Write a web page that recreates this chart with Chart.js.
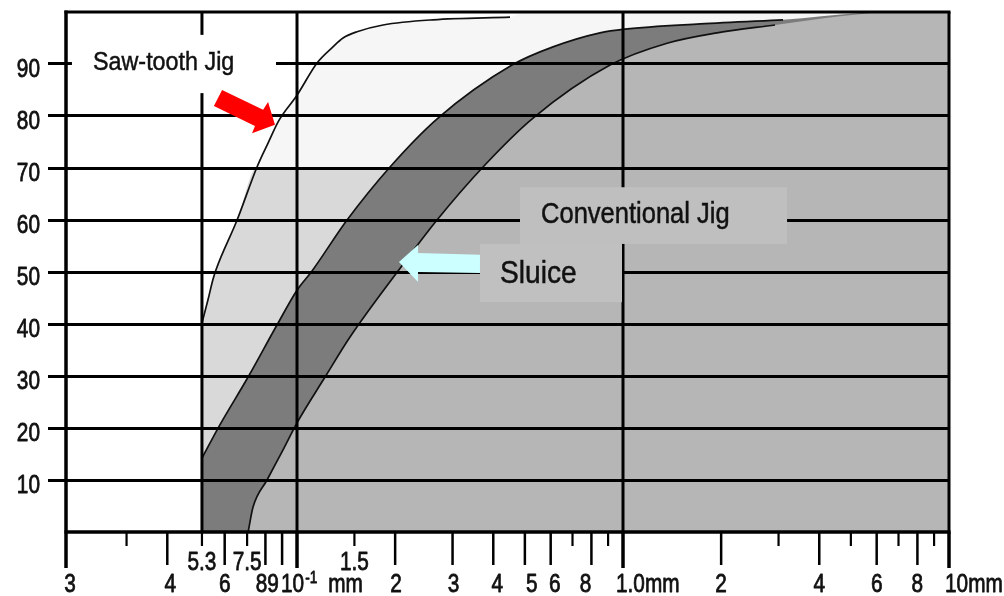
<!DOCTYPE html>
<html><head><meta charset="utf-8">
<script src="https://cdn.jsdelivr.net/npm/chart.js@4.4.1/dist/chart.umd.min.js"></script>
<style>html,body{margin:0;padding:0;background:#fff;overflow:hidden}</style>
</head><body>
<canvas id="c" width="1004" height="596"></canvas>
<script>
// ---------------- data ----------------
const xMin = 0.01956, xMax = 10;
const yTickValues = [10, 20, 30, 40, 50, 60, 70, 80, 90];
const yTickLabels = ['10', '20', '30', '40', '50', '60', '70', '80', '90'];

const xLongTicks  = [0.01956, 0.04, 0.06, 0.08, 0.09, 0.1, 0.2, 0.3, 0.4, 0.5, 0.6, 0.8, 1, 2, 4, 6, 8, 10];
const xShortTicks = [0.03, 0.0511, 0.0703, 0.15, 0.7, 0.9, 3, 5, 7, 9];
const xHeavyTicks = [0.01956, 0.1, 1, 10];
const xGridValues = [0.0511, 0.1, 1];

const xLowerLabelValues = [0.01956, 0.04, 0.06, 0.08, 0.09, 0.1, 0.2, 0.3, 0.4, 0.5, 0.6, 0.8, 1, 2, 4, 6, 8, 10];
const xLowerLabels      = ['3', '4', '6', '8', '9', '10\u207B\u00B9 mm', '2', '3', '4', '5', '6', '8', '1.0mm', '2', '4', '6', '8', '10mm'];
const xUpperLabelValues = [0.0511, 0.0703, 0.15];
const xUpperLabels      = ['5.3', '7.5', '1.5'];

// Saw-tooth Jig curve (size mm, cumulative %)
const sawX = [0.0511, 0.0533, 0.0552, 0.0564, 0.0655, 0.0754, 0.0815, 0.0881, 0.1, 0.1152, 0.1289, 0.1384, 0.1528, 0.1836, 0.2614, 0.4502];
const sawY = [40.2, 44.6, 48.5, 50.4, 60.0, 70.2, 74.8, 79.2, 84.0, 90.2, 93.3, 95.0, 96.2, 97.5, 98.5, 99.0];

// Sluice band, upper (left) edge
const bandUpperX = [0.0511, 0.0580, 0.0708, 0.0868, 0.1, 0.1112, 0.1424, 0.1929, 0.2707, 0.4565, 0.6099, 0.8499, 1.014, 1.723, 3.097, 5.333, 6.927];
const bandUpperY = [14.2, 20.6, 29.8, 39.8, 46.5, 50.2, 60.0, 70.2, 79.6, 89.8, 93.3, 96.0, 96.7, 97.7, 98.5, 99.8, 100];

// Sluice band, lower (right) edge = boundary of Conventional Jig area
const bandLowerX = [0.0708, 0.0733, 0.0809, 0.0906, 0.1, 0.1219, 0.1454, 0.2041, 0.2688, 0.3720, 0.5297, 0.9125, 1.365, 1.943, 2.926, 4.63, 6.927];
const bandLowerY = [0, 4.8, 10.0, 15.8, 21.0, 29.8, 37.5, 50.2, 60.0, 70.2, 79.6, 89.8, 94.0, 96.0, 97.5, 99.2, 100];

// ---------------- annotations (data coordinates) ----------------
const boxes = [
  {x0: 0.0204, x1: 0.0862, y0: 84.4, y1: 95.6, color: '#ffffff'},
  {x0: 0.4831, x1: 3.186,  y0: 55.4, y1: 66.3, color: '#bfbfbf'},
  {x0: 0.3641, x1: 0.9929, y0: 44.2, y1: 55.4, color: '#c0c0c0'}
];
const texts = [
  {text: 'Saw-tooth Jig',    x: 0.02367, y: 88.85, size: 26.5},
  {text: 'Conventional Jig', x: 0.5604,  y: 59.4,  size: 29},
  {text: 'Sluice',           x: 0.4195,  y: 47.9,  size: 32}
];
const redArrow  = [[0.0589, 85.0], [0.0787, 81.2], [0.0815, 82.7], [0.0856, 78.3], [0.0728, 76.7], [0.0743, 78.1], [0.0556, 81.9]];
const cyanArrow = [[0.2055, 51.9], [0.2351, 55.2], [0.2351, 53.65], [0.3641, 53.3], [0.3641, 49.8], [0.2351, 50.0], [0.2351, 48.1]];

// ---------------- styling ----------------
const FONT_AXIS = '"Liberation Sans", Arial, sans-serif';
const FONT_TEXT = '"Liberation Sans", Arial, sans-serif';
const AXIS_SIZE = 26, AXIS_SQUEEZE = 0.8, TEXT_SQUEEZE = 0.88;
const lowerNudge = [4, 3, 0, -4, -9, -16, 1, 1, 4, 7, 4, -6, -7, 0, 0, 0, 0, -4];
const lowerAlign = ['center','center','center','center','center','left','center','center','center','center','center','center','left','center','center','center','center','left'];

const pts = (xs, ys) => xs.map((v, i) => ({x: v, y: ys[i]}));
const sawPts = pts(sawX, sawY);
const upperPts = pts(bandUpperX, bandUpperY);
const lowerPts = pts(bandLowerX, bandLowerY);
const OUTLINE_END = 3.1;
const lightPts = sawPts.filter(p => p.y <= 70.2).concat([{x: xMax, y: 70.2}]);
const veryLightPts = sawPts.concat([{x: 0.5, y: 100}, {x: xMax, y: 100}]);
const NONE = 'rgba(0,0,0,0)';
const base = {pointRadius: 0, pointHoverRadius: 0, cubicInterpolationMode: 'monotone'};

function squeezedText(ctx, text, px, py, size, squeeze, align) {
  ctx.save();
  ctx.translate(px, py);
  ctx.scale(squeeze, 1);
  ctx.font = size + 'px ' + FONT_AXIS;
  ctx.textAlign = align; ctx.textBaseline = 'alphabetic';
  ctx.fillStyle = '#111'; ctx.strokeStyle = '#111'; ctx.lineWidth = 0.8; ctx.lineJoin = 'round';
  ctx.fillText(text, 0, 0);
  ctx.strokeText(text, 0, 0);
  ctx.restore();
}
function squeezedWidth(ctx, text, size, squeeze) {
  ctx.save(); ctx.font = size + 'px ' + FONT_AXIS; const w = ctx.measureText(text).width * squeeze; ctx.restore(); return w;
}

const decor = {
  id: 'decor',
  afterDatasetsDraw(chart) {
    const {ctx, chartArea: a, scales: {x}} = chart;
    ctx.save();
    ctx.strokeStyle = '#000';
    ctx.lineCap = 'butt';
    const line = (x0, y0, x1, y1, w) => { ctx.lineWidth = w; ctx.beginPath(); ctx.moveTo(x0, y0); ctx.lineTo(x1, y1); ctx.stroke(); };
    xGridValues.forEach(v => { const px = x.getPixelForValue(v); line(px, a.top, px, a.bottom, 3); });
    line(a.left - 1.5, a.top, a.right + 1.5, a.top, 3);
    line(a.right, a.top, a.right, a.bottom, 3);
    line(a.left, a.top - 1.5, a.left, a.bottom, 3.5);
    line(a.left - 1.5, a.bottom, a.right + 1.5, a.bottom, 3.5);
    xLongTicks.forEach(v => { const px = x.getPixelForValue(v); const heavy = xHeavyTicks.includes(v); line(px, a.bottom, px, a.bottom + (heavy ? 36 : 33), heavy ? 3.5 : 2.5); });
    xShortTicks.forEach(v => { const px = x.getPixelForValue(v); line(px, a.bottom, px, a.bottom + 14, 2.2); });
    ctx.restore();
  },
  afterDraw(chart) {
    const {ctx, chartArea: a, scales: {x, y}} = chart;
    ctx.save();
    boxes.forEach(b => {
      const px0 = x.getPixelForValue(b.x0), px1 = x.getPixelForValue(b.x1);
      const py0 = y.getPixelForValue(b.y1), py1 = y.getPixelForValue(b.y0);
      ctx.fillStyle = b.color; ctx.fillRect(px0, py0, px1 - px0, py1 - py0);
    });
    const poly = (p, color) => {
      ctx.beginPath();
      p.forEach(([vx, vy], i) => { const px = x.getPixelForValue(vx), py = y.getPixelForValue(vy); i ? ctx.lineTo(px, py) : ctx.moveTo(px, py); });
      ctx.closePath(); ctx.fillStyle = color; ctx.fill();
    };
    poly(redArrow, '#ff0000');
    poly(cyanArrow, '#ccffff');
    texts.forEach(t => {
      ctx.save();
      ctx.translate(x.getPixelForValue(t.x), y.getPixelForValue(t.y));
      ctx.scale(TEXT_SQUEEZE, 1);
      ctx.font = t.size + 'px ' + FONT_TEXT;
      ctx.fillStyle = '#111'; ctx.strokeStyle = '#111'; ctx.lineWidth = 0.5;
      ctx.textAlign = 'left'; ctx.textBaseline = 'alphabetic';
      ctx.fillText(t.text, 0, 0);
      ctx.strokeText(t.text, 0, 0);
      ctx.restore();
    });
    // y-axis labels
    yTickValues.forEach((v, i) => squeezedText(ctx, yTickLabels[i], a.left - 26, y.getPixelForValue(v) + 13, AXIS_SIZE, AXIS_SQUEEZE, 'right'));
    // x-axis labels, lower row
    const base1 = a.bottom + 60;
    xLowerLabelValues.forEach((v, i) => {
      const px = x.getPixelForValue(v) + lowerNudge[i];
      const label = xLowerLabels[i];
      const m = label.match(/^(\d+)([\u207B\u00B9]+)\s*(.*)$/);
      if (m) {
        const sup = m[2].replace('\u207B', '-').replace('\u00B9', '1');
        squeezedText(ctx, m[1], px, base1, AXIS_SIZE, AXIS_SQUEEZE, 'left');
        const w1 = squeezedWidth(ctx, m[1], AXIS_SIZE, AXIS_SQUEEZE);
        squeezedText(ctx, sup, px + w1 + 1, base1 - 9, 17, AXIS_SQUEEZE, 'left');
        squeezedText(ctx, m[3], px + w1 + 24, base1, AXIS_SIZE, AXIS_SQUEEZE, 'left');
      } else {
        squeezedText(ctx, label, px, base1, AXIS_SIZE, AXIS_SQUEEZE, lowerAlign[i]);
      }
    });
    // x-axis labels, upper row
    xUpperLabelValues.forEach((v, i) => squeezedText(ctx, xUpperLabels[i], x.getPixelForValue(v), a.bottom + 38, AXIS_SIZE, AXIS_SQUEEZE, 'center'));
    ctx.restore();
  }
};

new Chart(document.getElementById('c'), {
  type: 'line',
  data: {
    datasets: [
      {...base, data: lowerPts.filter(p => p.x <= OUTLINE_END), borderColor: '#111', borderWidth: 1.7, fill: false},
      {...base, data: upperPts.filter(p => p.x <= OUTLINE_END), borderColor: '#111', borderWidth: 1.7, fill: false},
      {...base, data: sawPts, borderColor: '#111', borderWidth: 1.7, fill: false},
      {...base, data: lowerPts.concat([{x: xMax, y: 100}]), borderColor: NONE, borderWidth: 0.1, fill: 'origin', backgroundColor: '#b6b6b6'},
      {...base, data: upperPts.concat([{x: xMax, y: 100}]), borderColor: NONE, borderWidth: 0.1, fill: 'origin', backgroundColor: '#7c7c7c'},
      {...base, data: lightPts, borderColor: NONE, borderWidth: 0.1, fill: 'origin', backgroundColor: '#d9d9d9'},
      {...base, data: veryLightPts, borderColor: NONE, borderWidth: 0.1, fill: 'origin', backgroundColor: '#f6f6f6'}
    ]
  },
  options: {
    responsive: false, animation: false, devicePixelRatio: 1,
    layout: {padding: {left: 0, top: 12, right: 55, bottom: 0}},
    plugins: {legend: {display: false}, tooltip: {enabled: false}},
    scales: {
      x: {type: 'logarithmic', min: xMin, max: xMax,
          afterFit(s) { s.height = 64; s.paddingLeft = 0; s.paddingRight = 0; },
          ticks: {display: false}, grid: {display: false}, border: {display: false}},
      y: {type: 'linear', min: 0, max: 100,
          afterFit(s) { s.width = 66; s.paddingTop = 0; s.paddingBottom = 0; },
          afterBuildTicks(s) { s.ticks = yTickValues.map(v => ({value: v})); },
          ticks: {display: false},
          grid: {color: '#000', lineWidth: 3, tickLength: 18, tickColor: '#000', tickWidth: 3, z: 1},
          border: {display: false}}
    }
  },
  plugins: [decor]
});
</script>
</body></html>
